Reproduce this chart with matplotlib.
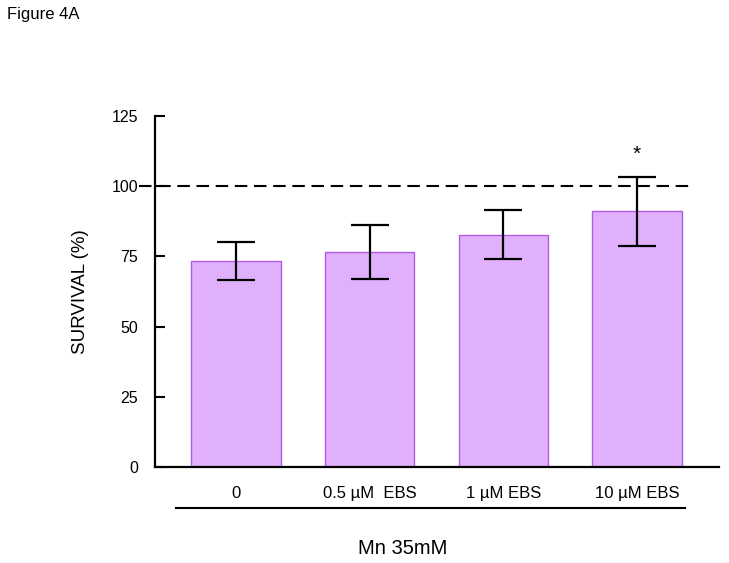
import numpy as np
import matplotlib.pyplot as plt
from matplotlib.lines import Line2D

plt.rcParams['font.family'] = ['Liberation Sans', 'DejaVu Sans']

groups = ['0', '0.5 µM  EBS', '1 µM EBS', '10 µM EBS']
survival = [73.3, 76.5, 82.7, 91.0]
sem = [6.7, 9.5, 8.7, 12.2]
signif = ['', '', '', '*']

fig = plt.figure(figsize=(7.29, 5.63), dpi=100)
ax = fig.add_axes([0.2126, 0.1705, 0.7734, 0.6235])

x = np.arange(len(groups))
ax.bar(x, survival, width=0.67, color='#e1b0fd', edgecolor='#b15be6', linewidth=1.0, zorder=2)
ax.errorbar(x, survival, yerr=sem, fmt='none', ecolor='black', elinewidth=1.6,
            capsize=14, capthick=1.6, zorder=3)
for xi, m, e, s in zip(x, survival, sem, signif):
    if s:
        ax.text(xi, m + e + 8, s, ha='center', va='center', fontsize=15)

# control level
ax.plot([-0.72, 3.41], [100, 100], color='black', lw=1.5, linestyle=(0, (6, 3.2)),
        clip_on=False, zorder=4)

ax.set_xlim(-0.604, 3.61)
ax.set_ylim(0, 125)
ax.set_yticks([0, 25, 50, 75, 100, 125])
ax.set_xticks(x)
ax.set_xticklabels(groups, fontsize=12)
ax.tick_params(axis='x', length=0, pad=14)
ax.tick_params(axis='y', direction='in', length=7, width=1.5, labelsize=11.5, pad=12)
for sp in ['top', 'right']:
    ax.spines[sp].set_visible(False)
ax.spines['left'].set_linewidth(1.6)
ax.spines['bottom'].set_linewidth(1.6)
ax.set_ylabel('SURVIVAL (%)', fontsize=13.5, labelpad=16)

fig.add_artist(Line2D([176 / 729, 685 / 729], [1 - 508 / 563, 1 - 508 / 563],
                      color='black', lw=1.5))
fig.text(403 / 729, 1 - 548 / 563, 'Mn 35mM', ha='center', va='center', fontsize=14.5)
fig.text(7 / 729, 1 - 15 / 563, 'Figure 4A', ha='left', va='center', fontsize=12)

fig.savefig('out.png', dpi=100)
